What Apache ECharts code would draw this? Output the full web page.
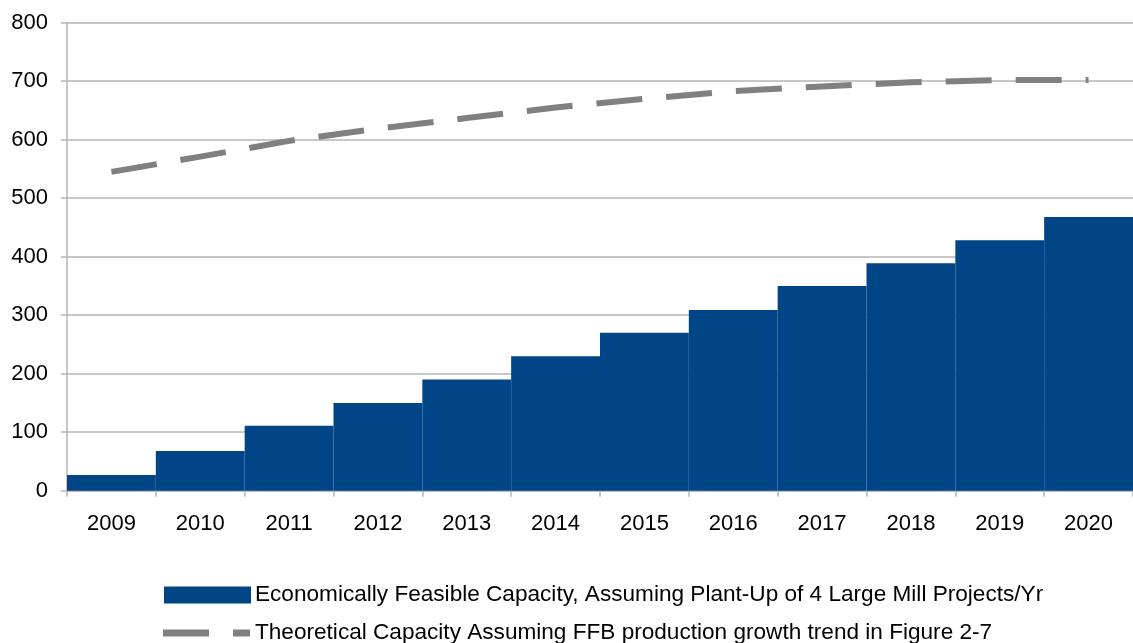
<!DOCTYPE html>
<html>
<head>
<meta charset="utf-8">
<script src="https://cdn.jsdelivr.net/npm/echarts@6/dist/echarts.min.js"></script>
<style>
  html, body { margin: 0; padding: 0; background: #ffffff; }
  #chart { width: 1133px; height: 643px; }
</style>
</head>
<body>
<div id="chart"></div>
<script>
// Years on the category axis
const years = ['2009', '2010', '2011', '2012', '2013', '2014', '2015', '2016', '2017', '2018', '2019', '2020'];

// Economically feasible capacity (bars)
const feasibleCapacity = [27, 68, 111, 150, 190, 230, 270, 309, 350, 389, 428, 468];

// Theoretical capacity following the FFB production trend (dashed line)
const theoreticalCapacity = [545, 571, 598, 619, 637, 655, 670, 683, 691, 698, 702, 702];

const feasibleName = 'Economically Feasible Capacity, Assuming Plant-Up of 4 Large Mill Projects/Yr';
const theoreticalName = 'Theoretical Capacity Assuming FFB production growth trend in Figure 2-7';

const chart = echarts.init(document.getElementById('chart'), null, { renderer: 'canvas' });

const gridColor = '#b5b5b5';
const barColor = '#004687';
const lineColor = '#808080';
const fontFamily = '"Liberation Sans", Arial, sans-serif';
const fontSize = 22;

const legendText = { fontSize: 22.6, color: '#000000', fontFamily: fontFamily };

chart.setOption({
  animation: false,
  backgroundColor: '#ffffff',
  textStyle: { fontFamily: fontFamily, color: '#000000' },
  grid: { left: 67, top: 22.7, width: 1075, height: 468, containLabel: false },
  legend: [
    {
      left: 164,
      top: 583.5,
      padding: 0,
      itemWidth: 85,
      itemHeight: 15,
      textStyle: legendText,
      data: [{ name: feasibleName, icon: 'rect' }]
    },
    {
      left: 163,
      top: 621.5,
      padding: 0,
      itemWidth: 87,
      itemHeight: 7,
      textStyle: legendText,
      data: [{ name: theoreticalName, icon: 'path://M0,0h46v7h-46z M70,0h17v7h-17z' }]
    }
  ],
  xAxis: {
    type: 'category',
    data: years,
    boundaryGap: true,
    splitLine: { show: false },
    axisLine: { lineStyle: { color: gridColor, width: 1.5 } },
    axisTick: { show: true, alignWithLabel: false, length: 6, lineStyle: { color: gridColor, width: 1.5 } },
    axisLabel: { fontSize: fontSize, color: '#000000', margin: 22, fontFamily: fontFamily }
  },
  yAxis: {
    type: 'value',
    min: 0,
    max: 800,
    interval: 100,
    axisLine: { show: true, lineStyle: { color: gridColor, width: 1.5 } },
    axisTick: { show: true, length: 6, lineStyle: { color: gridColor, width: 1.5 } },
    axisLabel: { fontSize: fontSize, color: '#000000', margin: 19, fontFamily: fontFamily },
    splitLine: { show: true, lineStyle: { color: gridColor, width: 1.5 } }
  },
  series: [
    {
      name: feasibleName,
      type: 'bar',
      data: feasibleCapacity,
      barCategoryGap: '0%',
      // same-colour border closes the hairline seams between adjacent bars
      itemStyle: { color: barColor, borderColor: barColor, borderWidth: 1.6 },
      legendHoverLink: false,
      z: 2
    },
    {
      name: theoreticalName,
      type: 'line',
      data: theoreticalCapacity,
      symbol: 'none',
      showSymbol: false,
      lineStyle: { color: lineColor, width: 6, type: [46, 24], cap: 'butt' },
      itemStyle: { color: lineColor },
      z: 3
    }
  ]
});
</script>
</body>
</html>
